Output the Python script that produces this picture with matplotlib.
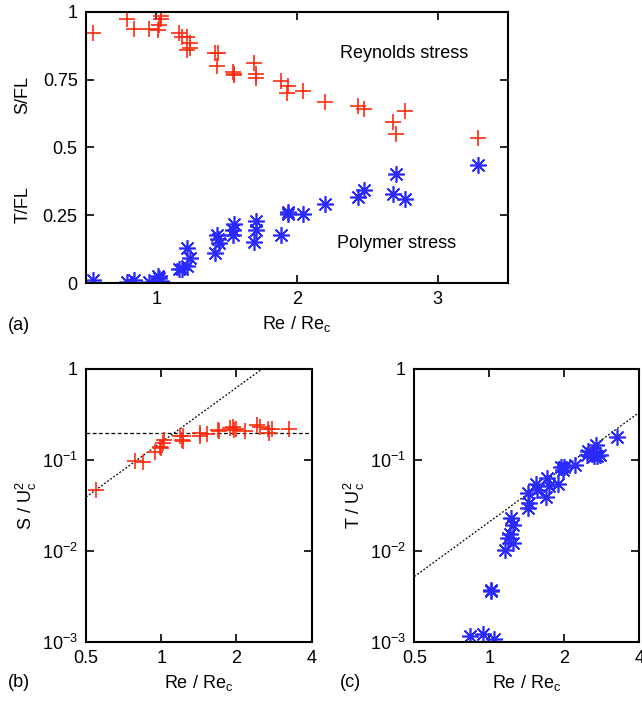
import numpy as np
import matplotlib
matplotlib.use("Agg")
import matplotlib.pyplot as plt
from matplotlib.ticker import FixedLocator, NullLocator, FixedFormatter

plt.rcParams['font.family'] = ['Liberation Sans', 'DejaVu Sans']
plt.rcParams['font.size'] = 13
plt.rcParams['mathtext.fontset'] = 'custom'
plt.rcParams['mathtext.rm'] = 'Liberation Sans'
plt.rcParams['mathtext.it'] = 'Liberation Sans'

RED = '#ff2a10'
BLUE = '#2a2aff'
STAR = (8, 2, 0)

# (a) fractions vs Re/Re_c
re_s = [0.552, 0.79, 0.838, 0.945, 1.01, 1.02, 1.03, 1.03, 1.164, 1.18, 1.22, 1.236,
        1.22, 1.24, 1.414, 1.438, 1.43, 1.545, 1.55, 1.55, 1.693, 1.71, 1.71, 1.886,
        1.94, 1.93, 2.04, 2.2, 2.434, 2.474, 2.68, 2.707, 2.77, 3.288]
s_fl = [0.922, 0.973, 0.939, 0.939, 0.933, 0.951, 0.973, 0.985, 0.924, 0.908, 0.906, 0.884,
        0.859, 0.868, 0.847, 0.849, 0.801, 0.779, 0.772, 0.766, 0.812, 0.772, 0.755, 0.746,
        0.726, 0.700, 0.708, 0.669, 0.653, 0.643, 0.595, 0.549, 0.634, 0.536]
re_t = [0.552, 0.79, 0.838, 0.945, 1.01, 1.02, 1.03, 1.025, 1.164, 1.18, 1.22, 1.22,
        1.24, 1.414, 1.43, 1.44, 1.445, 1.545, 1.55, 1.545, 1.693, 1.71, 1.71, 1.886,
        1.94, 1.94, 2.04, 2.2, 2.434, 2.474, 2.68, 2.707, 2.77, 3.288]
t_fl = [0.012, 0.005, 0.012, 0.004, 0.027, 0.018, 0.006, 0.003, 0.051, 0.051, 0.129, 0.061,
        0.092, 0.110, 0.178, 0.162, 0.148, 0.178, 0.218, 0.195, 0.153, 0.227, 0.196, 0.178,
        0.255, 0.262, 0.256, 0.292, 0.317, 0.343, 0.329, 0.402, 0.309, 0.435]

# (b) S/U_c^2
re_b = [0.548, 0.785, 0.848, 0.944, 0.989, 1.02, 1.03, 1.0, 1.19, 1.21, 1.22, 1.22,
        1.43, 1.43, 1.52, 1.69, 1.71, 1.88, 1.94, 1.96, 2.0, 2.16, 2.41, 2.48,
        2.68, 2.71, 2.77, 3.25]
s_u = [0.047, 0.097, 0.094, 0.123, 0.140, 0.152, 0.165, 0.135, 0.183, 0.165, 0.183, 0.160,
       0.196, 0.183, 0.194, 0.213, 0.206, 0.223, 0.232, 0.213, 0.220, 0.206, 0.242, 0.232,
       0.216, 0.200, 0.220, 0.216]

# (c) T/U_c^2
re_c = [0.836, 0.94, 1.04, 1.015, 1.02, 1.156, 1.19, 1.21, 1.24, 1.22, 1.24, 1.43,
        1.45, 1.43, 1.54, 1.55, 1.69, 1.73, 1.70, 1.89, 1.94, 1.98, 2.0, 2.21,
        2.46, 2.5, 2.68, 2.63, 2.71, 2.78, 3.26]
t_u = [0.00115, 0.00123, 0.00106, 0.0037, 0.0036, 0.0102, 0.0137, 0.0153, 0.0121, 0.0231, 0.0192, 0.0293,
       0.0333, 0.0436, 0.0543, 0.047, 0.0394, 0.051, 0.0627, 0.0543, 0.0842, 0.077, 0.083, 0.0879,
       0.113, 0.125, 0.146, 0.110, 0.109, 0.113, 0.177]

s_plateau = 0.2
s_coef = 0.156
t_coef = 0.0208

fig = plt.figure(figsize=(6.42, 7.04), dpi=100)


def style(ax):
    ax.tick_params(direction='in', top=True, right=True, length=6, width=1.2,
                   labelsize=13, pad=6)
    for sp in ax.spines.values():
        sp.set_linewidth(1.5)


# panel (a)
ax = fig.add_axes([0.134, 0.598, 0.657, 0.385])
ax.plot(re_s, s_fl, ls='none', marker='+', ms=12, mew=1.2, color=RED)
ax.plot(re_t, t_fl, ls='none', marker=STAR, ms=12, mew=1.2, color=BLUE)
ax.set_xlim(0.5, 3.5)
ax.set_ylim(0, 1)
ax.set_xticks([1, 2, 3])
ax.set_yticks([0, 0.25, 0.5, 0.75, 1])
ax.set_yticklabels(['0', '0.25', '0.5', '0.75', '1'])
style(ax)
ax.text(2.76, 0.845, 'Reynolds stress', ha='center', va='center', fontsize=13)
ax.text(2.71, 0.145, 'Polymer stress', ha='center', va='center', fontsize=13)
ax.set_xlabel(r'Re / Re$_\mathregular{c}$', fontsize=13, labelpad=4)
fig.text(0.036, 0.865, 'S/FL', rotation=90, ha='center', va='center', fontsize=13)
fig.text(0.036, 0.71, 'T/FL', rotation=90, ha='center', va='center', fontsize=13)
fig.text(0.012, 0.538, '(a)', fontsize=13, va='center')

xfit = np.array([0.5, 4.0])


def log_axes(ax):
    ax.set_xscale('log')
    ax.set_yscale('log')
    ax.set_xlim(0.5, 4)
    ax.set_ylim(1e-3, 1)
    ax.xaxis.set_major_locator(FixedLocator([0.5, 1, 2, 4]))
    ax.xaxis.set_major_formatter(FixedFormatter(['0.5', '1', '2', '4']))
    ax.xaxis.set_minor_locator(NullLocator())
    ax.yaxis.set_major_locator(FixedLocator([1e-3, 1e-2, 1e-1, 1]))
    ax.yaxis.set_major_formatter(FixedFormatter([r'10$^\mathregular{-3}$', r'10$^\mathregular{-2}$',
                                                 r'10$^\mathregular{-1}$', '1']))
    ax.yaxis.set_minor_locator(NullLocator())
    style(ax)
    ax.set_xlabel(r'Re / Re$_\mathregular{c}$', fontsize=13, labelpad=4)


# panel (b)
ax = fig.add_axes([0.134, 0.0885, 0.3515, 0.3874])
ax.plot(xfit, [s_plateau, s_plateau], color='black', ls=(0, (3, 2)), lw=0.9)
ax.plot(xfit, s_coef * xfit ** 2, color='black', ls=(0, (1.5, 1.5)), lw=0.9)
ax.plot(re_b, s_u, ls='none', marker='+', ms=12, mew=1.2, color=RED)
log_axes(ax)
ax.set_ylabel(r'S / U$_\mathregular{c}^\mathregular{2}$', fontsize=13, labelpad=2)
fig.text(0.012, 0.031, '(b)', fontsize=13, va='center')

# panel (c)
ax = fig.add_axes([0.6453, 0.0885, 0.3505, 0.3874])
ax.plot(xfit, t_coef * xfit ** 2, color='black', ls=(0, (1.5, 1.5)), lw=0.9)
ax.plot(re_c, t_u, ls='none', marker=STAR, ms=12, mew=1.2, color=BLUE)
log_axes(ax)
ax.set_ylabel(r'T / U$_\mathregular{c}^\mathregular{2}$', fontsize=13, labelpad=2)
fig.text(0.53, 0.031, '(c)', fontsize=13, va='center')

fig.savefig('out.png', dpi=100)
